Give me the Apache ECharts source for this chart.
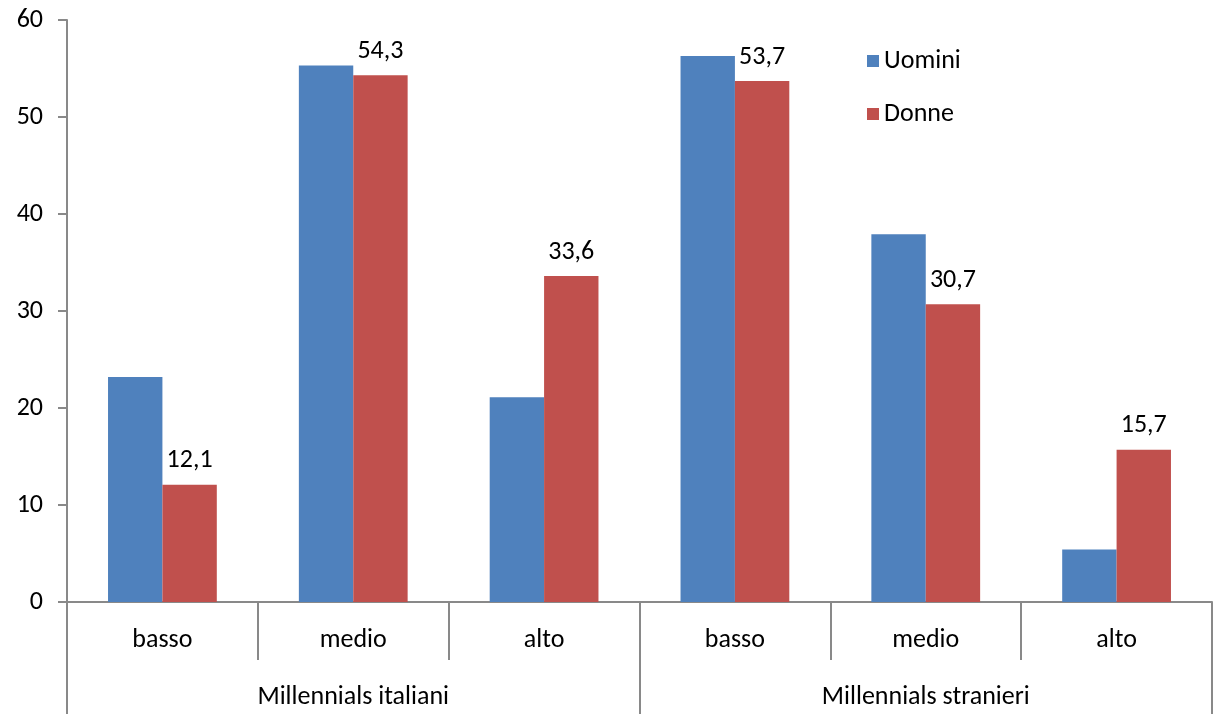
<!DOCTYPE html>
<html>
<head>
<meta charset="utf-8">
<script src="https://cdn.jsdelivr.net/npm/echarts@6/dist/echarts.min.js"></script>
<style>
html,body{margin:0;padding:0;background:#fff;}
#chart{width:1214px;height:714px;}
</style>
</head>
<body>
<div id="chart"></div>
<script>
const categories = ['basso', 'medio', 'alto', 'basso', 'medio', 'alto'];
const groups = ['Millennials italiani', 'Millennials stranieri'];
const uomini = [23.2, 55.3, 21.1, 56.3, 37.9, 5.4];
const donne = [12.1, 54.3, 33.6, 53.7, 30.7, 15.7];
const yTicks = [0, 10, 20, 30, 40, 50, 60];

const FONT = 'Carlito, "Liberation Sans Narrow", "DejaVu Sans Condensed", "Open Sans", sans-serif';
const FS = 26;
const axisGray = '#898989';

const chart = echarts.init(document.getElementById('chart'), null, {renderer: 'canvas'});
chart.setOption({
  animation: false,
  backgroundColor: '#ffffff',
  textStyle: {fontFamily: FONT},
  grid: {left: 67, right: 2, top: 20, bottom: 112, containLabel: false},
  legend: {
    orient: 'vertical',
    left: 862, top: 43,
    icon: 'rect', itemWidth: 12, itemHeight: 12,
    itemGap: 27,
    textStyle: {fontFamily: FONT, fontSize: FS, color: '#000'},
    data: ['Uomini', 'Donne']
  },
  xAxis: [
    {
      type: 'category',
      data: categories,
      position: 'bottom',
      boundaryGap: true,
      axisLine: {show: true, lineStyle: {color: axisGray, width: 2}},
      axisTick: {show: true, interval: 0, length: 58, lineStyle: {color: axisGray, width: 2}},
      axisLabel: {interval: 0, margin: 25, fontSize: FS, color: '#000', fontFamily: FONT}
    },
    {
      type: 'category',
      data: groups,
      position: 'bottom',
      boundaryGap: true,
      axisLine: {show: false},
      axisTick: {show: true, interval: 0, length: 112, lineStyle: {color: axisGray, width: 2}},
      axisLabel: {interval: 0, margin: 82, fontSize: FS, color: '#000', fontFamily: FONT}
    }
  ],
  yAxis: {
    type: 'value',
    min: 0, max: 60, interval: 10,
    axisLine: {show: true, lineStyle: {color: axisGray, width: 2}},
    axisTick: {show: true, length: 9, lineStyle: {color: axisGray, width: 2}},
    splitLine: {show: false},
    axisLabel: {margin: 24, fontSize: FS, color: '#000', fontFamily: FONT,
      formatter: function (v) { return yTicks.indexOf(v) >= 0 ? String(v) : ''; }}
  },
  series: [
    {
      name: 'Uomini', type: 'bar', xAxisIndex: 0,
      data: uomini,
      barGap: '0%', barCategoryGap: '43%',
      itemStyle: {color: '#4F81BD'}
    },
    {
      name: 'Donne', type: 'bar', xAxisIndex: 0,
      data: donne,
      barGap: '0%', barCategoryGap: '43%',
      itemStyle: {color: '#C0504D'},
      label: {
        show: true, position: 'top', distance: 11,
        color: '#000', fontSize: FS, fontFamily: FONT,
        formatter: function (p) { return p.value.toFixed(1).replace('.', ','); }
      }
    }
  ]
});
</script>
</body>
</html>
